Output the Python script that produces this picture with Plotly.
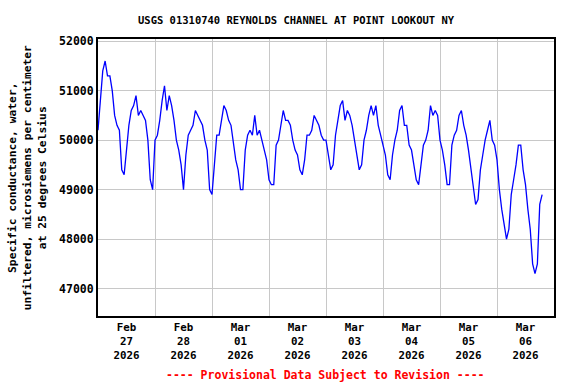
import pandas as pd
import plotly.graph_objects as go

# Hourly specific conductance readings (microsiemens/cm)
feb27 = [50200, 50900, 51400, 51600, 51300, 51300, 51000, 50500, 50300, 50200, 49400, 49300,
         49800, 50300, 50600, 50700, 50900, 50500, 50600, 50500, 50400, 50000, 49200, 49000]
feb28 = [50000, 50100, 50400, 50800, 51100, 50600, 50900, 50700, 50400, 50000, 49800, 49500,
         49000, 49700, 50100, 50200, 50300, 50600, 50500, 50400, 50300, 50000, 49800, 49000]
mar01 = [48900, 49500, 50100, 50100, 50400, 50700, 50600, 50400, 50300, 49900, 49600, 49400,
         49000, 49000, 49800, 50100, 50200, 50100, 50500, 50100, 50200, 50000, 49800, 49600]
mar02 = [49200, 49100, 49100, 49900, 50000, 50300, 50600, 50400, 50400, 50300, 50000, 49800,
         49700, 49400, 49300, 49600, 50100, 50100, 50200, 50500, 50400, 50300, 50100, 50000]
mar03 = [50000, 49700, 49400, 49500, 50100, 50400, 50700, 50800, 50400, 50600, 50500, 50300,
         50000, 49700, 49400, 49500, 50000, 50200, 50500, 50700, 50500, 50700, 50300, 50100]
mar04 = [49900, 49700, 49300, 49200, 49700, 50000, 50200, 50600, 50700, 50300, 50300, 49900,
         49800, 49500, 49200, 49100, 49500, 49900, 50000, 50200, 50700, 50500, 50600, 50500]
mar05 = [50000, 49800, 49500, 49100, 49100, 49900, 50100, 50200, 50500, 50600, 50300, 50100,
         49800, 49400, 49100, 48700, 48800, 49400, 49700, 50000, 50200, 50400, 50000, 49900]
mar06 = [49600, 49000, 48600, 48300, 48000, 48200, 48900, 49200, 49500, 49900, 49900, 49400,
         49100, 48600, 48200, 47500, 47300, 47500, 48700, 48900]

values = feb27 + feb28 + mar01 + mar02 + mar03 + mar04 + mar05 + mar06
times = pd.date_range("2026-02-27 00:00", periods=len(values), freq="h")

title_text = "USGS 01310740 REYNOLDS CHANNEL AT POINT LOOKOUT NY"
ytitle_lines = ["Specific conductance, water,",
                "unfiltered, microsiemens per centimeter",
                "at 25 degrees Celsius"]
footer_text = "---- Provisional Data Subject to Revision ----"

FONT = "DejaVu Sans Mono"

fig = go.Figure(go.Scatter(x=times, y=values, mode="lines",
                           line=dict(color="#0000FF", width=1.3),
                           hoverinfo="skip"))

fig.update_layout(
    width=576, height=384,
    margin=dict(l=98, r=22, t=39, b=68),
    paper_bgcolor="white", plot_bgcolor="white",
    showlegend=False,
    title=dict(text=title_text, x=0.514, xanchor="center", xref="container",
               y=0.948, yanchor="middle", yref="container",
               font=dict(family=FONT, size=10.5, color="black", weight="bold")),
    xaxis=dict(type="date", range=["2026-02-27", "2026-03-07"],
               tick0="2026-02-27", dtick=86400000,
               tickformat="%b<br>%d<br>%Y", ticklabelmode="period",
               showgrid=True, gridcolor="#C8C8C8", gridwidth=1,
               showline=True, linecolor="black", linewidth=2, mirror=True,
               ticks="", zeroline=False,
               tickfont=dict(family=FONT, size=10.8, color="black", weight="bold")),
    yaxis=dict(range=[46445, 52045], tick0=47000, dtick=1000, tickformat="d",
               showgrid=True, gridcolor="#C8C8C8", gridwidth=1,
               showline=True, linecolor="black", linewidth=2, mirror=True,
               ticks="", zeroline=False,
               tickfont=dict(family=FONT, size=11.5, color="black", weight="bold")),
    annotations=[
        dict(text="<br>".join(ytitle_lines), textangle=-90, showarrow=False,
             xref="paper", yref="paper", x=-0.156, y=0.5,
             xanchor="center", yanchor="middle", align="center",
             font=dict(family=FONT, size=11.3, color="black", weight="bold")),
        dict(text=footer_text, showarrow=False,
             xref="paper", yref="paper", x=0.498, y=-0.213,
             xanchor="center", yanchor="middle",
             font=dict(family=FONT, size=11.5, color="#FF0000", weight="bold")),
    ],
)

fig.write_html("out.html", config={"displayModeBar": False},
               post_script="document.body.style.margin='0';document.body.style.overflow='hidden';")
